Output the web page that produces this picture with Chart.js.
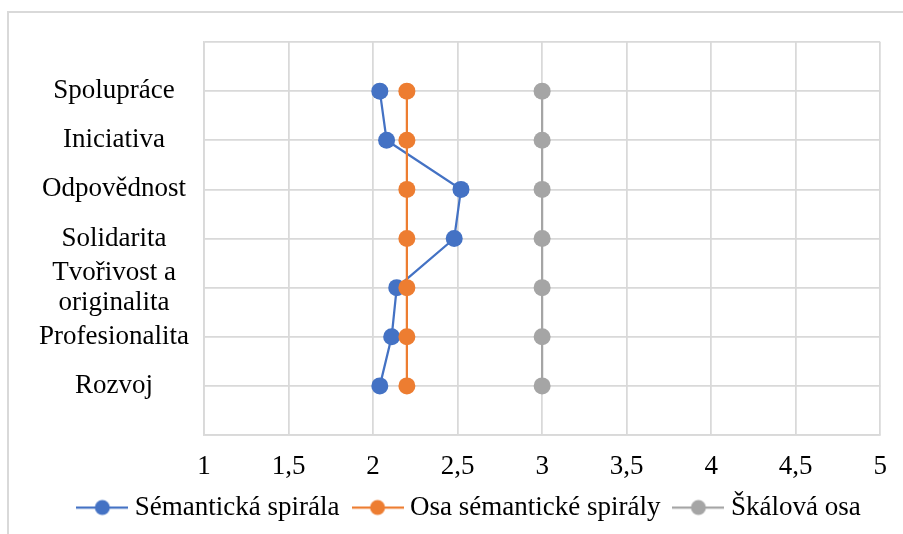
<!DOCTYPE html>
<html>
<head>
<meta charset="utf-8">
<script src="https://cdn.jsdelivr.net/npm/chart.js@4/dist/chart.umd.min.js"></script>
<style>
    html, body { margin: 0; padding: 0; background: #fff; }
    #box { position: relative; width: 903px; height: 534px; }
</style>
</head>
<body>
<div id="box"><canvas id="myChart"></canvas></div>
<script>
// categories top to bottom
var categories = ['Spolupráce', 'Iniciativa', 'Odpovědnost', 'Solidarita', ['Tvořivost a', 'originalita'], 'Profesionalita', 'Rozvoj'];
var semantickaSpirala = [2.04, 2.08, 2.52, 2.48, 2.14, 2.11, 2.04];
var osaSpiraly = [2.2, 2.2, 2.2, 2.2, 2.2, 2.2, 2.2];
var skalovaOsa = [3, 3, 3, 3, 3, 3, 3];
var xTicks = [1, 1.5, 2, 2.5, 3, 3.5, 4, 4.5, 5];
var seriesNames = ['Sémantická spirála', 'Osa sémantické spirály', 'Škálová osa'];
var seriesColors = ['#4472C4', '#ED7D31', '#A5A5A5'];

var font = "'Liberation Serif', 'Times New Roman', serif";

// category i sits on y = 7 ... 1
function toPoints(values) {
    return values.map((v, i) => ({ x: v, y: categories.length - i }));
}

// legend marker: short line with a dot on it
function legendMarker(color) {
    var c = document.createElement('canvas');
    c.width = 52;
    c.height = 18;
    var g = c.getContext('2d');
    g.strokeStyle = color;
    g.lineWidth = 2.25;
    g.beginPath();
    g.moveTo(0, 9);
    g.lineTo(52, 9);
    g.stroke();
    g.fillStyle = color;
    g.beginPath();
    g.arc(26, 9, 7.5, 0, Math.PI * 2);
    g.fill();
    return c;
}

// outer frame (only top and left edges are visible)
var framePlugin = {
    id: 'frame',
    afterLayout(chart) {
        // legend sits a bit right of the canvas centre in the original
        chart.legend.left += 29;
        chart.legend.right += 29;
    },
    beforeDraw(chart) {
        var c = chart.ctx;
        c.save();
        c.strokeStyle = '#d9d9d9';
        c.lineWidth = 2;
        c.beginPath();
        c.moveTo(8, 534);
        c.lineTo(8, 12);
        c.lineTo(903, 12);
        c.stroke();
        c.restore();
    }
};

document.addEventListener('DOMContentLoaded', function() {
    var ctx = document.getElementById('myChart').getContext('2d');
    var allData = [semantickaSpirala, osaSpiraly, skalovaOsa];

    var myChart = new Chart(ctx, {
        type: 'scatter',
        data: {
            datasets: allData.map((d, i) => ({
                label: seriesNames[i],
                data: toPoints(d),
                showLine: true,
                borderColor: seriesColors[i],
                backgroundColor: seriesColors[i],
                borderWidth: 2.25,
                pointRadius: 8.5,
                pointHoverRadius: 8.5,
                pointBorderWidth: 0,
                order: 3 - i // later series on top, like Excel
            }))
        },
        options: {
            responsive: true,
            maintainAspectRatio: false,
            animation: false,
            layout: {
                padding: { top: 42, left: 0, right: 17, bottom: 3 }
            },
            plugins: {
                tooltip: { enabled: false },
                legend: {
                    position: 'bottom',
                    labels: {
                        font: { family: font, size: 27 },
                        color: '#000',
                        usePointStyle: true,
                        pointStyleWidth: 38,
                        padding: 19,
                        generateLabels: function(chart) {
                            return chart.data.datasets.map((ds, i) => ({
                                text: ds.label,
                                pointStyle: legendMarker(seriesColors[i]),
                                fillStyle: seriesColors[i],
                                strokeStyle: seriesColors[i],
                                lineWidth: 0,
                                datasetIndex: i,
                                fontColor: '#000'
                            }));
                        }
                    }
                }
            },
            scales: {
                x: {
                    type: 'linear',
                    min: 1,
                    max: 5,
                    afterBuildTicks: function(scale) {
                        scale.ticks = xTicks.map(v => ({ value: v }));
                    },
                    afterFit: function(scale) {
                        scale.height = 40;
                        // labels hang a little below the axis box, so don't clip them
                        scale._computeLabelArea = function() { return undefined; };
                    },
                    grid: { color: '#d9d9d9', lineWidth: 1.75, drawTicks: false },
                    border: { color: '#d9d9d9', width: 1.75 },
                    ticks: {
                        font: { family: font, size: 27 },
                        color: '#000',
                        padding: 16,
                        maxRotation: 0,
                        autoSkip: false,
                        callback: v => String(v).replace('.', ',')
                    }
                },
                y: {
                    type: 'linear',
                    min: 0,
                    max: 8,
                    afterBuildTicks: function(scale) {
                        var t = [];
                        for (var v = 0; v <= categories.length + 1; v++) t.push({ value: v });
                        scale.ticks = t;
                    },
                    afterFit: function(scale) {
                        scale.width = 204;
                    },
                    grid: { color: '#d9d9d9', lineWidth: 1.75, drawTicks: false },
                    border: { color: '#d9d9d9', width: 1.75 },
                    ticks: {
                        font: { family: font, size: 27, lineHeight: 1.12 },
                        color: '#000',
                        padding: 15,
                        crossAlign: 'center',
                        autoSkip: false,
                        callback: function(v) {
                            var i = categories.length - v;
                            return (i >= 0 && i < categories.length) ? categories[i] : '';
                        }
                    }
                }
            }
        },
        plugins: [framePlugin]
    });
});
</script>
</body>
</html>
